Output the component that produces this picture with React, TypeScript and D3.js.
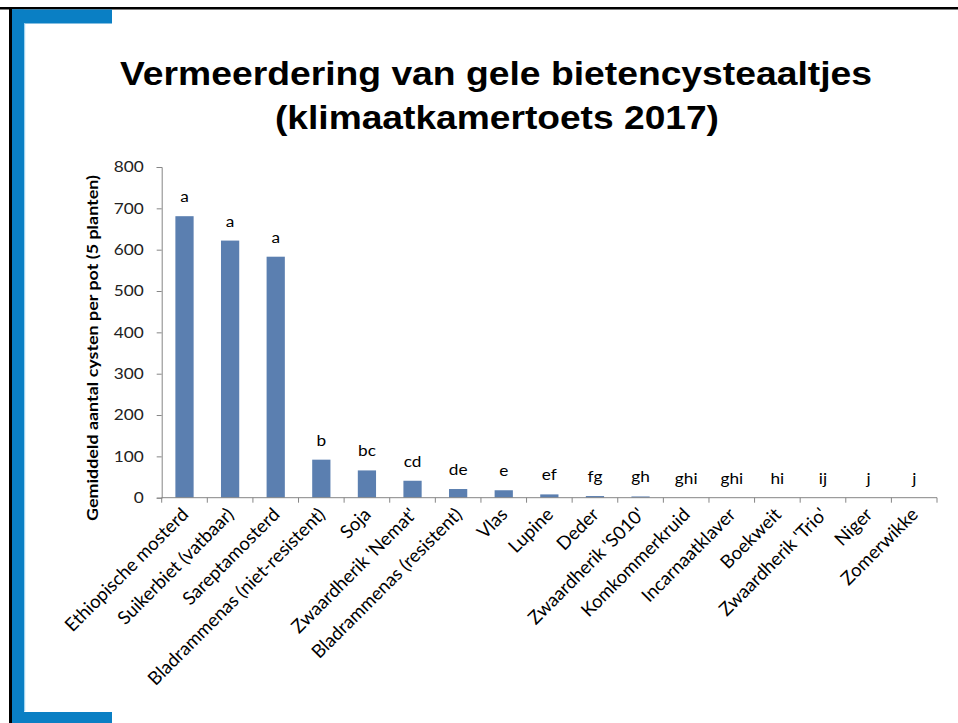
import { useEffect, useRef } from "react";
import * as d3 from "d3";

const categories = [
  "Ethiopische mosterd",
  "Suikerbiet (vatbaar)",
  "Sareptamosterd",
  "Bladrammenas (niet-resistent)",
  "Soja",
  "Zwaardherik 'Nemat'",
  "Bladrammenas (resistent)",
  "Vlas",
  "Lupine",
  "Deder",
  "Zwaardherik 'S010'",
  "Komkommerkruid",
  "Incarnaatklaver",
  "Boekweit",
  "Zwaardherik 'Trio'",
  "Niger",
  "Zomerwikke",
];
const values = [681, 622, 583, 92, 66, 41, 21, 18, 8, 4, 3, 0, 0, 0, 0, 0, 0];
const letters = ["a", "a", "a", "b", "bc", "cd", "de", "e", "ef", "fg", "gh", "ghi", "ghi", "hi", "ij", "j", "j"];
const yTicks = [0, 100, 200, 300, 400, 500, 600, 700, 800];

const W = 958;
const H = 723;
const stretch = 1.15; // the slide is a bit wider than tall text

export default function App() {
  const ref = useRef<SVGSVGElement>(null);

  useEffect(() => {
    const svg = d3.select(ref.current);
    svg.selectAll("*").remove();

    /* -------- slide frame -------- */
    svg.append("rect").attr("width", W).attr("height", H).attr("fill", "#fff");
    svg.append("rect").attr("x", 0).attr("y", 7).attr("width", W).attr("height", 2.5).attr("fill", "#000");
    svg.append("rect").attr("x", 9).attr("y", 7).attr("width", 3).attr("height", H).attr("fill", "#000");
    const blue = "#0a7fc4";
    svg.append("rect").attr("x", 12).attr("y", 9.5).attr("width", 100).attr("height", 14).attr("fill", blue);
    svg.append("rect").attr("x", 12).attr("y", 9.5).attr("width", 12).attr("height", H).attr("fill", blue);
    svg.append("rect").attr("x", 24).attr("y", 23.5).attr("width", 1.2).attr("height", 688).attr("fill", "#9fd3f0");
    svg.append("rect").attr("x", 12).attr("y", 712).attr("width", 100).attr("height", 11).attr("fill", blue);

    /* -------- title -------- */
    const title = svg
      .append("text")
      .attr("text-anchor", "middle")
      .attr("font-family", "Liberation Sans, Arial, sans-serif")
      .attr("font-weight", "bold")
      .attr("font-size", 33.5)
      .attr("fill", "#000");
    title
      .append("tspan")
      .attr("x", 496)
      .attr("y", 85)
      .attr("textLength", 752)
      .attr("lengthAdjust", "spacingAndGlyphs")
      .text("Vermeerdering van gele bietencysteaaltjes");
    title
      .append("tspan")
      .attr("x", 497)
      .attr("y", 129)
      .attr("textLength", 444)
      .attr("lengthAdjust", "spacingAndGlyphs")
      .text("(klimaatkamertoets 2017)");

    /* -------- scales -------- */
    const left = 161.7;
    const right = 937;
    const x = d3.scaleBand().domain(categories).range([left, right]).paddingInner(0.6).paddingOuter(0.3);
    const y = d3.scaleLinear().domain([0, 800]).range([497.7, 167]);
    const font = "Lato, 'Open Sans', sans-serif";
    const axisColor = "#868686";

    /* -------- bars -------- */
    svg
      .append("g")
      .selectAll("rect")
      .data(values)
      .join("rect")
      .attr("x", (_, i) => x(categories[i])!)
      .attr("y", (d) => y(d))
      .attr("width", x.bandwidth())
      .attr("height", (d) => y(0) - y(d))
      .attr("fill", "#5b7fb0");

    /* -------- letters -------- */
    svg
      .append("g")
      .selectAll("text")
      .data(letters)
      .join("text")
      .attr("transform", (_, i) => {
        const cx = x(categories[i])! + x.bandwidth() / 2;
        return `translate(${cx},${y(values[i]) - 14}) scale(${stretch},1)`;
      })
      .attr("text-anchor", "middle")
      .attr("font-family", font)
      .attr("font-size", 15)
      .attr("fill", "#000")
      .text((d) => d);

    /* -------- y axis -------- */
    const yAxis = svg
      .append("g")
      .attr("transform", `translate(${left},0)`)
      .call(d3.axisLeft(y).tickValues(yTicks).tickSize(5).tickPadding(0));
    yAxis.select(".domain").attr("stroke", axisColor);
    yAxis.selectAll(".tick line").attr("stroke", axisColor);
    yAxis
      .selectAll(".tick text")
      .attr("x", null)
      .attr("transform", `translate(-18,0) scale(${stretch},1)`)
      .attr("font-family", font)
      .attr("font-size", 15)
      .attr("fill", "#222");

    /* -------- x axis -------- */
    const step = (right - left) / categories.length;
    const xg = svg.append("g");
    xg.append("line")
      .attr("x1", left)
      .attr("x2", right)
      .attr("y1", y(0))
      .attr("y2", y(0))
      .attr("stroke", axisColor);
    xg.selectAll("line.tk")
      .data(d3.range(categories.length + 1))
      .join("line")
      .attr("class", "tk")
      .attr("x1", (i) => left + i * step)
      .attr("x2", (i) => left + i * step)
      .attr("y1", y(0))
      .attr("y2", y(0) + 5)
      .attr("stroke", axisColor);
    xg.selectAll("text")
      .data(categories)
      .join("text")
      .attr("transform", (d) => {
        const cx = x(d)! + x.bandwidth() / 2 + 5;
        return `translate(${cx},${y(0) + 18}) rotate(-45)`;
      })
      .attr("text-anchor", "end")
      .attr("font-family", font)
      .attr("font-size", 18.5)
      .attr("fill", "#000")
      .text((d) => d);

    /* -------- y title -------- */
    svg
      .append("text")
      .attr("transform", `translate(98,348) rotate(-90)`)
      .attr("text-anchor", "middle")
      .attr("font-family", font)
      .attr("font-weight", "bold")
      .attr("font-size", 15)
      .attr("textLength", 346)
      .attr("lengthAdjust", "spacingAndGlyphs")
      .attr("fill", "#000")
      .text("Gemiddeld aantal cysten per pot (5 planten)");
  }, []);

  return (
    <svg
      ref={ref}
      width={W}
      height={H}
      style={{ position: "absolute", left: 0, top: 0, display: "block" }}
    />
  );
}
